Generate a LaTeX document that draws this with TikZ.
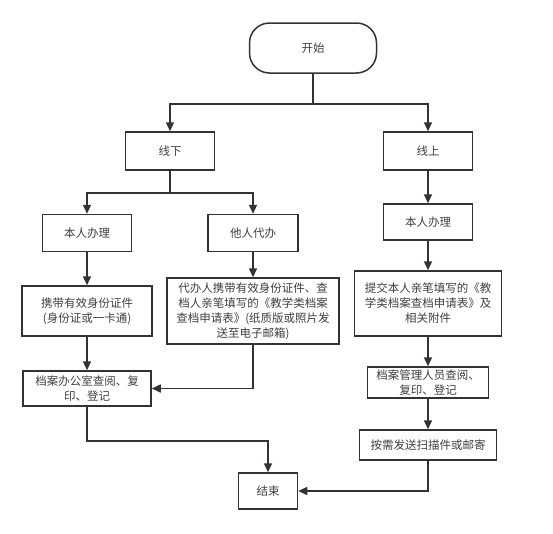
\documentclass[tikz,border=0pt]{standalone}
\usepackage{fontspec}
\setmainfont{Noto Sans CJK SC}
\usetikzlibrary{arrows.meta}

\begin{document}
\begin{tikzpicture}[x=1pt,y=-1pt,line width=1.5pt,color=black!80,
    flow/.style={-{Triangle[length=9pt,width=8pt]}}]

        \path[fill=white,use as bounding box] (0,0) rectangle (553,533);

        \begin{scope}[every node/.style={draw, align=center, inner sep=1pt,
            font=\fontsize{11.5}{15}\selectfont, text=black!75}]
          \node[rounded corners=20pt, minimum width=127pt, minimum height=50pt] (1) at (313,48) {开始};
          \node[minimum width=89pt,  minimum height=38pt] (2)  at (170,151)   {线下};
          \node[minimum width=89pt,  minimum height=38pt] (3)  at (428,151)   {线上};
          \node[minimum width=89pt,  minimum height=37pt] (4)  at (87,233)    {本人办理};
          \node[minimum width=90pt,  minimum height=37pt] (5)  at (253,233)   {他人代办};
          \node[minimum width=89pt,  minimum height=36pt] (6)  at (428,222)   {本人办理};
          \node[minimum width=130pt, minimum height=50pt] (7)  at (87,311)    {携带有效身份证件\\(身份证或一卡通)};
          \node[minimum width=172pt, minimum height=66pt] (8)  at (253,311)   {代办人携带有效身份证件、查\\档人亲笔填写的《教学类档案\\查档申请表》(纸质版或照片发\\送至电子邮箱)};
          \node[minimum width=147pt, minimum height=65pt] (9)  at (428,303.5) {提交本人亲笔填写的《教\\学类档案查档申请表》及\\相关附件};
          \node[minimum width=128pt, minimum height=35pt] (10) at (87,388.5)  {档案办公室查阅、复\\印、登记};
          \node[minimum width=121pt, minimum height=31pt] (11) at (428,382.5) {档案管理人员查阅、\\复印、登记};
          \node[minimum width=137pt, minimum height=30pt] (12) at (428,445)   {按需发送扫描件或邮寄};
          \node[minimum width=59pt,  minimum height=36pt] (13) at (268,491)   {结束};
        \end{scope}

        \begin{scope}[every path/.style={flow}]
          \draw (1.south) -- ++(0,30) -| (2.north);
          \draw (1.south) -- ++(0,30) -| (3.north);
          \draw (2.south) -- ++(0,22) -| (4.north);
          \draw (2.south) -- ++(0,22) -| (5.north);
          \draw (3) -- (6);
          \draw (6) -- (9);
          \draw (9) -- (11);
          \draw (11) -- (12);
          \draw (4) -- (7);
          \draw (7) -- (10);
          \draw (5) -- (8);
          \draw (8.south) |- (10.east);
          \draw (10.south) -- ++(0,34) -| (13.north);
          \draw (12.south) |- (13.east);
        \end{scope}

      \end{tikzpicture}
\end{document}
